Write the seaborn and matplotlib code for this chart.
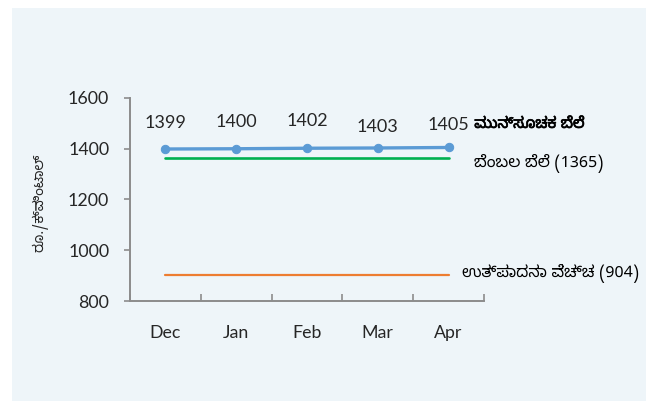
import os
import matplotlib
matplotlib.use("Agg")
import matplotlib.pyplot as plt
import matplotlib.patheffects as pe
from matplotlib import font_manager
from matplotlib.font_manager import FontProperties
from matplotlib.ft2font import FT2Font
from matplotlib.patches import Rectangle
import seaborn as sns
import pandas as pd

# ---- data ----
months = ["Dec", "Jan", "Feb", "Mar", "Apr"]
forecast = [1399, 1400, 1402, 1403, 1405]
support_price = 1365
production_cost = 904
yticks = [800, 1000, 1200, 1400, 1600]
forecast_label = "ಮುನ್ಸೂಚಕ ಬೆಲೆ"
support_label = "ಬೆಂಬಲ ಬೆಲೆ (1365)"
cost_label = "ಉತ್ಪಾದನಾ ವೆಚ್ಚ (904)"
ylabel = "ರೂ./ಕ್ವಿಂಟಾಲ್"

# ---- find fonts with Kannada glyphs ----
cands = []
for fe in font_manager.fontManager.ttflist:
    try:
        f = FT2Font(fe.fname)
        if f.get_char_index(0x0CAC) and f.get_char_index(0x0CC6):
            w = fe.weight if isinstance(fe.weight, int) else 400
            base = os.path.basename(fe.fname).lower()
            if "extrabold" in base or "black" in base:
                fw = 850
            elif "semibold" in base:
                fw = 600
            elif "bold" in base:
                fw = 700
            elif "light" in base or "thin" in base:
                fw = 300
            elif "medium" in base:
                fw = 500
            elif "regular" in base:
                fw = 400
            else:
                fw = w
            cands.append((fe, fw))
    except Exception:
        pass


def best(target):
    if not cands:
        return None, None
    return min(cands, key=lambda t: (0 if "Kannada" in t[0].name else 1,
                                     0 if t[0].style == "normal" else 1,
                                     abs(t[1] - target)))


reg_fe, _ = best(400)
bold_fe, bold_w = best(700)
kn_fams = ([reg_fe.name] if reg_fe else []) + ["Lato", "DejaVu Sans"]
fake_bold = False
if bold_fe is not None and bold_w >= 600:
    bold_prop = FontProperties(fname=bold_fe.fname, size=11)
else:
    bold_prop = FontProperties(family=kn_fams, weight="bold", size=11)
    fake_bold = True
reg_prop = (FontProperties(fname=reg_fe.fname, size=11.5) if reg_fe
            else FontProperties(family=kn_fams, size=11.5))

sns.set_theme(style="white")
plt.rcParams["font.family"] = ["Lato", "DejaVu Sans"]

W, H = 646, 401
fig = plt.figure(figsize=(W / 100, H / 100), dpi=100)
bg = "#EEF5F9"
fig.patches.append(Rectangle((12 / W, 0), 1 - 12 / W, 1 - 8 / H,
                             transform=fig.transFigure, facecolor=bg,
                             edgecolor="none", zorder=-10))
ax = fig.add_axes([130 / W, 1 - 301 / H, 354 / W, 203 / H])
ax.set_facecolor("none")
ax.set_zorder(5)

df = pd.DataFrame({"month": months, "forecast": forecast,
                   "support": [support_price] * len(months),
                   "cost": [production_cost] * len(months)})

sns.lineplot(data=df, x="month", y="cost", ax=ax, color="#ED7D31",
             linewidth=1.6, sort=False)
sns.lineplot(data=df, x="month", y="support", ax=ax, color="#00B050",
             linewidth=1.9, sort=False)
sns.lineplot(data=df, x="month", y="forecast", ax=ax, color="#5B9BD5",
             linewidth=2.4, marker="o", markersize=6,
             markeredgecolor="#5B9BD5", sort=False)

tick_fs = 12.8
ax.set_xlim(-0.5, len(months) - 0.5)
ax.set_ylim(800, 1600)
ax.set_yticks(yticks)
ax.set_yticklabels([str(v) for v in yticks], fontsize=tick_fs, color="#262626")
ax.set_xticks(range(len(months)))
ax.set_xticklabels(months, fontsize=tick_fs, color="#262626")
ax.tick_params(axis="x", which="major", length=0, pad=17)
ax.set_xticks([i - 0.5 for i in range(len(months) + 1)], minor=True)
ax.tick_params(axis="x", which="minor", direction="in", length=5,
               width=1.2, color="#8C8C8C", bottom=True)
ax.tick_params(axis="y", direction="out", length=4, width=1.2,
               color="#8C8C8C", left=True, pad=11)
ax.set_xlabel("")
ax.set_ylabel("")
for s in ["top", "right"]:
    ax.spines[s].set_visible(False)
for s in ["left", "bottom"]:
    ax.spines[s].set_color("#8C8C8C")
    ax.spines[s].set_linewidth(1.4)

# data labels
offsets = [19, 19, 19.5, 15, 16]
for i, (v, dy) in enumerate(zip(forecast, offsets)):
    ax.annotate(str(v), xy=(i, v), xytext=(0, dy), textcoords="offset points",
                ha="center", va="center", fontsize=13, color="#262626")

# series labels
last = len(months) - 1
t = ax.annotate(forecast_label, xy=(last, forecast[-1]), xytext=(18.5, 17),
                textcoords="offset points", ha="left", va="center",
                fontproperties=bold_prop, color="#000000",
                annotation_clip=False)
t.set_path_effects([pe.withStroke(linewidth=0.5, foreground="#000000")])
ax.annotate(support_label, xy=(last, support_price), xytext=(18.5, -4),
            textcoords="offset points", ha="left", va="center",
            fontproperties=reg_prop, color="#000000",
            annotation_clip=False)
ax.annotate(cost_label, xy=(last, production_cost), xytext=(9.5, 1),
            textcoords="offset points", ha="left", va="center",
            fontproperties=reg_prop, color="#000000",
            annotation_clip=False)

fig.text(40 / W, 1 - 203 / H, ylabel, rotation=90, ha="center", va="center",
         fontsize=10, color="#262626", family=kn_fams)

fig.savefig("out.png", dpi=100, facecolor="white")
